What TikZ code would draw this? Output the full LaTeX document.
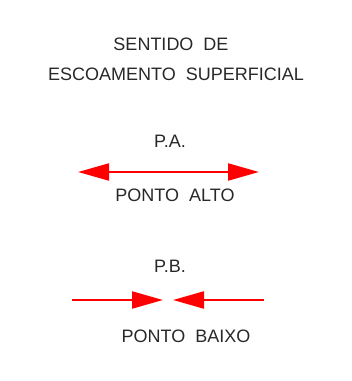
\documentclass[tikz,border=0pt]{standalone}
\usepackage{fontspec}
\setmainfont{Liberation Sans}
\usetikzlibrary{arrows.meta}
\definecolor{cadred}{RGB}{255,0,0}
\definecolor{cadtext}{RGB}{40,40,40}
\begin{document}
\begin{tikzpicture}[x=1pt,y=-1pt,
  lbl/.style={anchor=base,inner sep=0pt,text=cadtext,font=\fontsize{18}{20}\selectfont},
  flow/.style={draw=cadred,line width=2.2pt,-{Triangle[length=31pt,width=17pt,fill=cadred]}}]
\useasboundingbox (0,0) rectangle (352,381);
\node[lbl] (t1) at (171,50) {SENTIDO\ \ DE};
\node[lbl] (t2) at (176,80) {ESCOAMENTO\ \ SUPERFICIAL};
\node[lbl] (pa) at (170,147) {P.A.};
\node[lbl] (palto) at (175,201) {PONTO\ \ ALTO};
\node[lbl] (pb) at (170,272.5) {P.B.};
\node[lbl] (pbaixo) at (186,342) {PONTO\ \ BAIXO};
\coordinate (aL) at (78,172);
\coordinate (aR) at (259,172);
\coordinate (aM) at (168,172);
\draw[flow] (aM) -- (aL);
\draw[flow] (aM) -- (aR);
\coordinate (bL) at (72,300);
\coordinate (bLt) at (163,300);
\coordinate (bR) at (264,300);
\coordinate (bRt) at (173,300);
\draw[flow] (bL) -- (bLt);
\draw[flow] (bR) -- (bRt);
\end{tikzpicture}
\end{document}
